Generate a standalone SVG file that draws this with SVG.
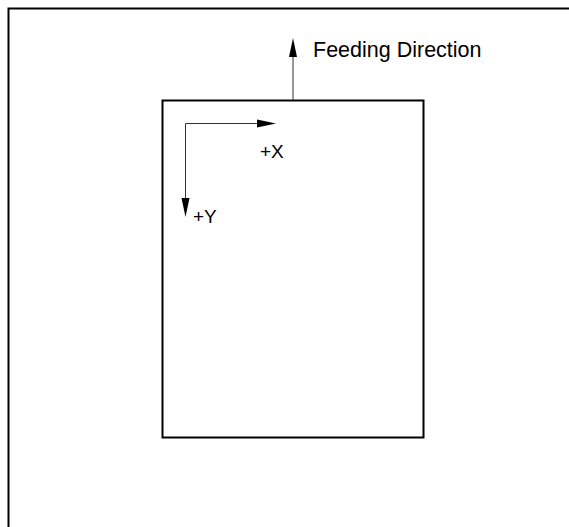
<svg xmlns="http://www.w3.org/2000/svg" width="569" height="527" viewBox="0 0 569 527">
<style>
.frame{fill:none;stroke:#000;stroke-width:2}
.ax{stroke:#333;stroke-width:1;fill:none}
.head{fill:#000}
text{font-family:"Liberation Sans",Arial,sans-serif;font-size:19px;fill:#000}
.big{font-size:21.5px}
</style>
<rect width="569" height="527" fill="#fff"/>
<g id="frame"><path class="frame" d="M8.5,527 V8.5 H569"/></g>
<g id="paper"><rect class="frame" x="162.5" y="100.5" width="261" height="337"/></g>
<g id="connectors">
<line class="ax" x1="293" y1="100" x2="293" y2="52"/>
<polygon class="head" points="293,38 289,57 297,57"/>
<polyline class="ax" points="261,123.5 185.5,123.5 185.5,202"/>
<polygon class="head" points="276,123.5 257,119.5 257,127.5"/>
<polygon class="head" points="185.5,217 181.5,198 189.5,198"/>
</g>
<g id="labels">
<text class="big" x="313" y="57">Feeding Direction</text>
<text x="260" y="158">+X</text>
<text x="193" y="223">+Y</text>
</g>
</svg>
